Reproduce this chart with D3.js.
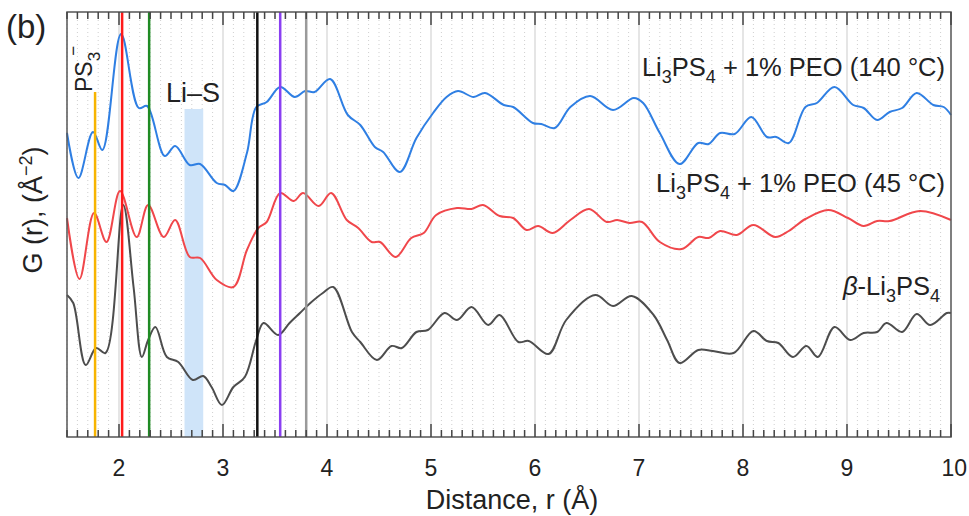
<!DOCTYPE html>
<html>
<head>
<meta charset="utf-8">
<script src="https://cdn.jsdelivr.net/npm/d3@7"></script>
<style>
  body { margin: 0; background: #fff; }
  text { font-family: "Liberation Sans", Arial, sans-serif; fill: #222; }
</style>
</head>
<body>
<svg width="969" height="516"></svg>
<script>
// PDF data (r in Å, G in arbitrary stacked units)
const peo140 = [[1.50,30.4],[1.61,25.9],[1.75,30.5],[1.84,28.7],[2.02,40.3],[2.19,32.9],[2.27,33.1],[2.44,28.1],[2.54,29.1],[2.68,27.2],[2.78,27.3],[2.94,25.4],[3.02,25.2],[3.10,24.6],[3.23,28.4],[3.32,33.0],[3.42,33.5],[3.55,35.0],[3.69,34.0],[3.79,34.6],[3.88,34.5],[4.03,35.8],[4.20,32.2],[4.32,31.2],[4.46,29.0],[4.54,28.5],[4.70,26.5],[4.86,29.9],[5.02,32.4],[5.15,34.0],[5.26,34.6],[5.41,34.0],[5.52,34.4],[5.70,33.2],[5.79,33.0],[5.98,31.4],[6.06,31.3],[6.19,30.9],[6.34,33.0],[6.53,34.1],[6.75,32.7],[6.95,33.9],[7.04,33.4],[7.20,30.4],[7.39,27.3],[7.57,29.4],[7.67,29.3],[7.78,30.4],[7.92,30.3],[8.08,32.0],[8.23,30.0],[8.32,30.0],[8.44,29.4],[8.60,33.0],[8.71,33.4],[8.88,35.0],[9.06,33.2],[9.16,32.9],[9.29,31.7],[9.41,32.5],[9.53,32.9],[9.67,34.4],[9.83,33.2],[9.93,33.0],[10.0,32.2]];
const peo45 = [[1.50,21.9],[1.62,15.8],[1.76,22.4],[1.88,19.5],[2.01,24.6],[2.17,20.0],[2.28,23.2],[2.43,20.0],[2.54,21.7],[2.68,18.0],[2.78,17.9],[2.94,15.7],[3.10,15.0],[3.23,18.7],[3.34,20.9],[3.42,21.5],[3.55,24.4],[3.68,23.6],[3.77,24.4],[3.92,23.1],[4.04,24.4],[4.19,21.7],[4.30,20.9],[4.43,19.5],[4.51,19.5],[4.66,18.0],[4.81,19.9],[4.93,20.4],[5.05,22.2],[5.25,22.9],[5.39,22.8],[5.50,23.2],[5.66,22.1],[5.79,21.9],[5.92,20.7],[6.03,21.1],[6.17,20.4],[6.34,21.7],[6.52,22.8],[6.69,21.5],[6.79,21.7],[6.91,21.4],[7.03,21.5],[7.20,19.5],[7.41,18.8],[7.57,20.0],[7.67,19.9],[7.78,20.6],[7.94,20.2],[8.10,21.2],[8.31,20.0],[8.44,20.6],[8.60,21.8],[8.82,22.7],[9.01,21.9],[9.16,21.1],[9.29,21.6],[9.41,21.6],[9.70,22.6],[10.0,21.7]];
const betaLPS = [[1.50,14.2],[1.56,13.4],[1.68,7.2],[1.78,8.9],[1.87,8.4],[2.04,23.2],[2.14,15.0],[2.22,8.0],[2.28,9.7],[2.35,11.0],[2.46,8.0],[2.57,7.5],[2.71,5.7],[2.81,6.1],[2.89,5.0],[2.99,3.2],[3.10,5.0],[3.21,6.0],[3.32,9.7],[3.39,11.4],[3.53,10.2],[3.64,11.4],[3.74,12.4],[3.84,13.4],[3.96,14.4],[4.06,15.0],[4.24,10.5],[4.32,9.5],[4.48,7.7],[4.62,9.1],[4.72,8.9],[4.86,10.5],[4.97,10.7],[5.13,12.4],[5.25,11.7],[5.39,13.0],[5.55,11.2],[5.66,12.2],[5.84,9.5],[5.94,9.6],[6.13,8.3],[6.30,11.7],[6.58,14.2],[6.75,13.1],[6.93,14.1],[7.14,12.2],[7.27,9.7],[7.39,7.4],[7.57,8.7],[7.71,8.6],[7.91,8.4],[8.10,10.6],[8.23,9.6],[8.34,9.4],[8.48,8.0],[8.61,9.1],[8.72,8.0],[8.88,11.0],[9.03,9.7],[9.16,10.4],[9.29,10.5],[9.38,11.4],[9.53,10.5],[9.67,12.3],[9.80,11.2],[9.96,12.4],[10.0,12.4]];

// marker positions (Å)
const refR = [1.77, 2.03, 2.29, 3.33, 3.55, 3.80];
const liSBand = [2.63, 2.81];
const xTicks = [2, 3, 4, 5, 6, 7, 8, 9, 10];

const svg = d3.select("svg");
const pLeft = 67, pRight = 951, pTop = 12, pBottom = 437;

const x = d3.scaleLinear().domain([1.5, 10]).range([pLeft, pRight]);
const y = d3.scaleLinear().domain([0, 42.5]).range([pBottom, pTop]);

// minor positions every 0.1
const minor = d3.range(15, 101).map(d => d / 10).filter(d => d % 1 !== 0);

// grid
const grid = svg.append("g");
grid.selectAll("line.minor").data(minor).enter().append("line")
  .attr("x1", d => x(d)).attr("x2", d => x(d))
  .attr("y1", pTop).attr("y2", pBottom)
  .style("stroke", "#cfcfcf").style("stroke-width", 1)
  .style("stroke-dasharray", "1,3");
grid.selectAll("line.major").data(xTicks.slice(0, -1)).enter().append("line")
  .attr("x1", d => x(d)).attr("x2", d => x(d))
  .attr("y1", pTop).attr("y2", pBottom)
  .style("stroke", "#dcdcdc").style("stroke-width", 1.5);

// Li-S band
svg.append("rect")
  .attr("x", x(liSBand[0])).attr("width", x(liSBand[1]) - x(liSBand[0]))
  .attr("y", y(32.8)).attr("height", pBottom - y(32.8))
  .style("fill", "#cfe4f9");

// curves
const line = d3.line()
  .x(d => x(d[0])).y(d => y(d[1]))
  .curve(d3.curveCatmullRom.alpha(0.5));

const series = [
  {data: peo140, color: "#2f7fe3"},
  {data: peo45, color: "#f0474b"},
  {data: betaLPS, color: "#4d4d4d"}
];
svg.selectAll("path.curve").data(series).enter().append("path")
  .attr("d", d => line(d.data))
  .style("fill", "none")
  .style("stroke", d => d.color)
  .style("stroke-width", 2);

// reference lines
const refColors = ["#f7b400", "#ff1a1a", "#1f8b24", "#111111", "#8a3ff2", "#9a9a9a"];
svg.selectAll("line.ref").data(refR).enter().append("line")
  .attr("x1", d => x(d)).attr("x2", d => x(d))
  .attr("y1", (d, i) => i === 0 ? y(34.5) : pTop)
  .attr("y2", pBottom)
  .style("stroke", (d, i) => refColors[i])
  .style("stroke-width", 2.5);

// frame
svg.append("rect")
  .attr("x", pLeft).attr("y", pTop)
  .attr("width", pRight - pLeft).attr("height", pBottom - pTop)
  .style("fill", "none").style("stroke", "#555").style("stroke-width", 1.5);

// ticks (inward, top and bottom)
const tickG = svg.append("g").style("stroke", "#444").style("stroke-width", 1.5);
const allTicks = minor.concat(xTicks);
tickG.selectAll("line.tb").data(allTicks).enter().append("line")
  .attr("x1", d => x(d)).attr("x2", d => x(d))
  .attr("y1", pBottom).attr("y2", d => pBottom - (d % 1 === 0 ? 13 : 7));
tickG.selectAll("line.tt").data(allTicks).enter().append("line")
  .attr("x1", d => x(d)).attr("x2", d => x(d))
  .attr("y1", pTop).attr("y2", d => pTop + (d % 1 === 0 ? 13 : 7));

svg.selectAll("text.tick").data(xTicks).enter().append("text")
  .attr("x", d => x(d)).attr("y", 476)
  .attr("text-anchor", d => d === 10 ? "end" : "middle")
  .attr("dx", d => d === 10 ? 16 : 0)
  .style("font-size", "23px")
  .text(d => d);

// axis titles
svg.append("text")
  .attr("x", 512).attr("y", 509)
  .attr("text-anchor", "middle")
  .style("font-size", "27px")
  .text("Distance, r (Å)");

const yl = svg.append("text")
  .attr("transform", "translate(42,210) rotate(-90)")
  .attr("text-anchor", "middle")
  .style("font-size", "27px");
yl.append("tspan").text("G (r), (Å");
yl.append("tspan").attr("dy", -10).style("font-size", "18px").text("−2");
yl.append("tspan").attr("dy", 10).text(")");

// panel letter
svg.append("text").attr("x", 6).attr("y", 38)
  .style("font-size", "33px").text("(b)");

// PS3- label
const ps = svg.append("text")
  .attr("transform", "translate(92,92) rotate(-90)")
  .style("font-size", "23px");
ps.append("tspan").text("PS");
ps.append("tspan").attr("dy", 8).style("font-size", "17px").text("3");
ps.append("tspan").attr("dx", -4).attr("dy", -21).style("font-size", "17px").text("−");

// Li–S label
svg.append("text").attr("x", 166).attr("y", 102)
  .style("font-size", "27px").text("Li–S");

// series labels
function subLabel(xr, yb, parts) {
  const t = svg.append("text").attr("x", xr).attr("y", yb)
    .attr("text-anchor", "end").style("font-size", "25.5px");
  parts.forEach(p => {
    const s = t.append("tspan").text(p[0]);
    if (p[1] === "sub") s.attr("dy", 7).style("font-size", "18px");
    if (p[1] === "back") s.attr("dy", -7);
    if (p[1] === "it") s.style("font-style", "italic");
  });
  return t;
}
subLabel(945, 76, [["Li"], ["3", "sub"], ["PS", "back"], ["4", "sub"], [" + 1% PEO (140 °C)", "back"]]);
subLabel(945, 192, [["Li"], ["3", "sub"], ["PS", "back"], ["4", "sub"], [" + 1% PEO (45 °C)", "back"]]);
subLabel(940, 295, [["β", "it"], ["-Li"], ["3", "sub"], ["PS", "back"], ["4", "sub"]]);
</script>
</body>
</html>
